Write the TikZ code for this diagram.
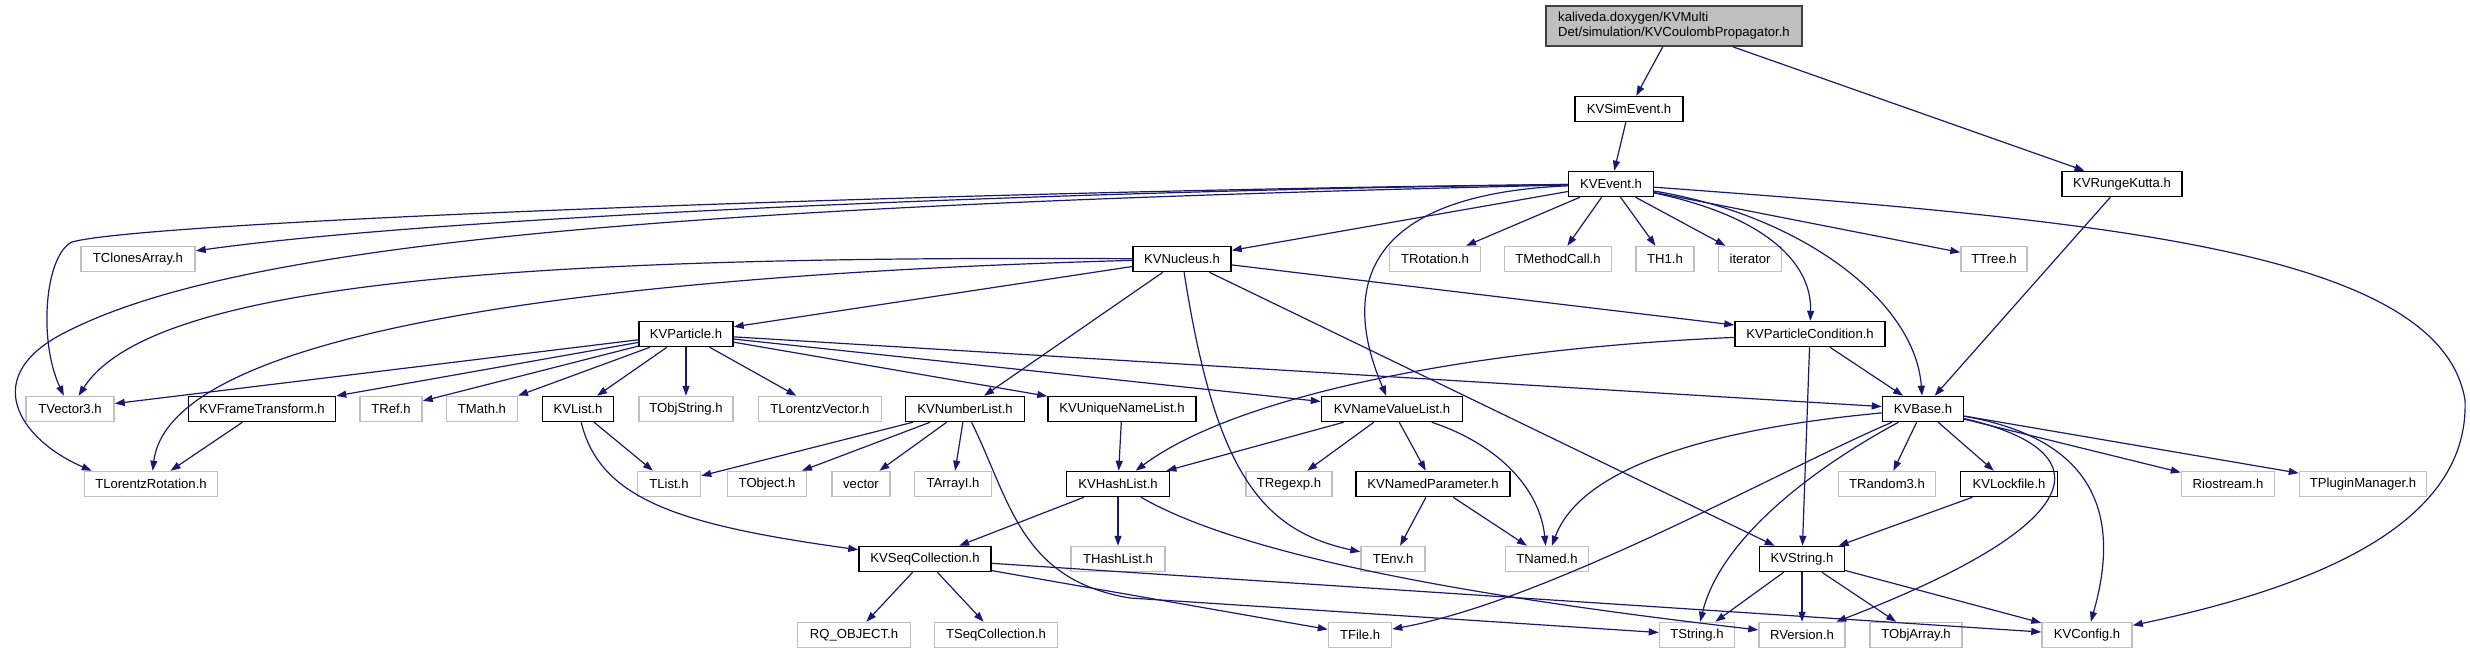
\documentclass[tikz,border=0pt]{standalone}
\usepackage{fontspec}
\usepackage{tikz}
\usetikzlibrary{arrows.meta,calc}
\newfontfamily\dotfont{Liberation Sans}
\definecolor{edgeblue}{HTML}{191970}
\definecolor{extgray}{HTML}{BFBFBF}
\definecolor{rootgray}{HTML}{BFBFBF}
\definecolor{rootline}{HTML}{404040}
\tikzset{filebox/.style={fill=white,line width=1.5pt,minimum height=25pt,inner sep=0pt,font={\dotfont\fontsize{13.1}{15}\selectfont}}, hdr/.style={filebox,draw=black},ext/.style={filebox,draw=extgray}, rootfile/.style={filebox,draw=rootline,fill=rootgray,align=left,minimum height=40pt},dep/.style={draw=edgeblue,line width=1.2pt,-{Triangle[length=10pt,width=7pt]}}}
\begin{document}
\begin{tikzpicture}[x=1pt,y=-1pt]
\useasboundingbox (0,0) rectangle (2470,649);
\node[rootfile,minimum width=256] (root) at (1674,26) {kaliveda.doxygen/KVMulti\\Det/simulation/KVCoulombPropagator.h};
\node[hdr,minimum width=108] (simevent) at (1629,109) {KVSimEvent.h};
\node[hdr,minimum width=85] (event) at (1611,184) {KVEvent.h};
\node[hdr,minimum width=120] (rungekutta) at (2122,184) {KVRungeKutta.h};
\node[ext,minimum width=114] (clonesarray) at (138,259) {TClonesArray.h};
\node[hdr,minimum width=98] (nucleus) at (1182,259) {KVNucleus.h};
\node[ext,minimum width=91] (rotation) at (1435,259) {TRotation.h};
\node[ext,minimum width=107] (methodcall) at (1558,259) {TMethodCall.h};
\node[ext,minimum width=58] (thone) at (1665,259) {TH1.h};
\node[ext,minimum width=63] (iterator) at (1750,259) {iterator};
\node[ext,minimum width=66] (ttree) at (1994,259) {TTree.h};
\node[hdr,minimum width=94] (particle) at (686,334) {KVParticle.h};
\node[hdr,minimum width=150] (partcond) at (1810,334) {KVParticleCondition.h};
\node[ext,minimum width=88] (vecthree) at (70,409) {TVector3.h};
\node[hdr,minimum width=147] (frametrans) at (262,409) {KVFrameTransform.h};
\node[ext,minimum width=62] (tref) at (391,409) {TRef.h};
\node[ext,minimum width=71] (tmath) at (482,409) {TMath.h};
\node[hdr,minimum width=71] (kvlist) at (578,409) {KVList.h};
\node[ext,minimum width=94] (objstring) at (686,409) {TObjString.h};
\node[ext,minimum width=123] (lorentzvec) at (820,409) {TLorentzVector.h};
\node[hdr,minimum width=119] (numberlist) at (965,409) {KVNumberList.h};
\node[hdr,minimum width=148] (uniquelist) at (1122,409) {KVUniqueNameList.h};
\node[hdr,minimum width=141] (namevalue) at (1392,409) {KVNameValueList.h};
\node[hdr,minimum width=81] (kvbase) at (1923,409) {KVBase.h};
\node[ext,minimum width=133] (lorentzrot) at (151,484) {TLorentzRotation.h};
\node[ext,minimum width=63] (tlist) at (669,484) {TList.h};
\node[ext,minimum width=79] (tobject) at (767,484) {TObject.h};
\node[ext,minimum width=58] (vector) at (861,484) {vector};
\node[ext,minimum width=77] (tarrayi) at (953,484) {TArrayI.h};
\node[hdr,minimum width=103] (hashlist) at (1118,484) {KVHashList.h};
\node[ext,minimum width=86] (regexp) at (1289,484) {TRegexp.h};
\node[hdr,minimum width=154] (namedpar) at (1433,484) {KVNamedParameter.h};
\node[ext,minimum width=97] (random3) at (1887,484) {TRandom3.h};
\node[hdr,minimum width=97] (lockfile) at (2009,484) {KVLockfile.h};
\node[ext,minimum width=93] (riostream) at (2228,484) {Riostream.h};
\node[ext,minimum width=127] (pluginmgr) at (2363,484) {TPluginManager.h};
\node[hdr,minimum width=132] (seqcoll) at (925,559) {KVSeqCollection.h};
\node[ext,minimum width=94] (thashlist) at (1118,559) {THashList.h};
\node[ext,minimum width=64] (tenv) at (1393,559) {TEnv.h};
\node[ext,minimum width=83] (tnamed) at (1547,559) {TNamed.h};
\node[hdr,minimum width=85] (kvstring) at (1802,559) {KVString.h};
\node[ext,minimum width=113] (rqobject) at (854,635) {RQ\_OBJECT.h};
\node[ext,minimum width=123] (tseqcoll) at (996,635) {TSeqCollection.h};
\node[ext,minimum width=63] (tfile) at (1360,635) {TFile.h};
\node[ext,minimum width=75] (tstring) at (1697,635) {TString.h};
\node[ext,minimum width=86] (rversion) at (1802,635) {RVersion.h};
\node[ext,minimum width=92] (objarray) at (1916,635) {TObjArray.h};
\node[ext,minimum width=90] (kvconfig) at (2087,635) {KVConfig.h};
\draw[dep] (root) -- (simevent);
\draw[dep] (root) -- (rungekutta);
\draw[dep] (simevent) -- (event);
\draw[dep] (event) .. controls (1000,190) and (150,220) .. (72,242) .. controls (45,255) and (38,340) .. (vecthree);
\draw[dep] (event) .. controls (1100,190) and (450,215) .. (clonesarray);
\draw[dep] (event) .. controls (700,205) and (250,240) .. (70,330) .. controls (-25,375) and (20,440) .. ([xshift=8pt]lorentzrot.north west);
\draw[dep] (event) -- (nucleus);
\draw[dep] (event) -- (rotation);
\draw[dep] (event) -- (methodcall);
\draw[dep] (event) -- (thone);
\draw[dep] (event) -- (iterator);
\draw[dep] (event) -- (ttree);
\draw[dep] (event) .. controls (1350,195) and (1345,300) .. (namevalue);
\draw[dep] (event) .. controls (1760,215) and (1812,260) .. (partcond);
\draw[dep] (event) .. controls (1800,215) and (1915,300) .. (kvbase);
\draw[dep] (event) .. controls (2100,220) and (2440,250) .. (2465,400) .. controls (2470,530) and (2300,590) .. (kvconfig);
\draw[dep] (rungekutta) -- (kvbase);
\draw[dep] (nucleus) .. controls (500,255) and (150,285) .. (vecthree);
\draw[dep] (nucleus) .. controls (600,275) and (170,330) .. (lorentzrot);
\draw[dep] (nucleus) -- (particle);
\draw[dep] (nucleus) -- (partcond);
\draw[dep] (nucleus) -- (numberlist);
\draw[dep] (nucleus) .. controls (1215,470) and (1260,530) .. (tenv);
\draw[dep] (nucleus) -- (kvstring);
\draw[dep] (particle) -- (vecthree);
\draw[dep] (particle) -- (frametrans);
\draw[dep] (particle) -- (tref);
\draw[dep] (particle) -- (tmath);
\draw[dep] (particle) -- (kvlist);
\draw[dep] (particle) -- (objstring);
\draw[dep] (particle) -- (lorentzvec);
\draw[dep] (particle) -- (uniquelist);
\draw[dep] (particle) -- (namevalue);
\draw[dep] (particle) -- (kvbase);
\draw[dep] (partcond) .. controls (1450,350) and (1230,400) .. (hashlist);
\draw[dep] (partcond) -- (kvstring);
\draw[dep] (partcond) -- (kvbase);
\draw[dep] (frametrans) -- (lorentzrot);
\draw[dep] (kvlist) -- (tlist);
\draw[dep] (kvlist) .. controls (600,500) and (680,525) .. (seqcoll);
\draw[dep] (numberlist) -- (tlist);
\draw[dep] (numberlist) -- (tobject);
\draw[dep] (numberlist) -- (vector);
\draw[dep] (numberlist) -- (tarrayi);
\draw[dep] (numberlist) .. controls (1010,500) and (1020,580) .. (1130,598) -- (tstring);
\draw[dep] (uniquelist) -- (hashlist);
\draw[dep] (namevalue) -- (hashlist);
\draw[dep] (namevalue) -- (regexp);
\draw[dep] (namevalue) -- (namedpar);
\draw[dep] (namevalue) .. controls (1500,445) and (1540,490) .. (tnamed);
\draw[dep] (kvbase) .. controls (1700,430) and (1580,470) .. (tnamed);
\draw[dep] (kvbase) .. controls (1780,470) and (1550,600) .. (tfile);
\draw[dep] (kvbase) .. controls (1810,470) and (1720,540) .. (tstring);
\draw[dep] (kvbase) -- (random3);
\draw[dep] (kvbase) -- (lockfile);
\draw[dep] (kvbase) -- (riostream);
\draw[dep] (kvbase) -- (pluginmgr);
\draw[dep] (kvbase) .. controls (2100,450) and (2100,520) .. (rversion);
\draw[dep] (kvbase) .. controls (2100,440) and (2120,520) .. (kvconfig);
\draw[dep] (lockfile) -- (kvstring);
\draw[dep] (namedpar) -- (tenv);
\draw[dep] (namedpar) -- (tnamed);
\draw[dep] (hashlist) -- (seqcoll);
\draw[dep] (hashlist) -- (thashlist);
\draw[dep] (hashlist) .. controls (1250,560) and (1500,600) .. (rversion);
\draw[dep] (seqcoll) -- (rqobject);
\draw[dep] (seqcoll) -- (tseqcoll);
\draw[dep] (seqcoll) -- (tfile);
\draw[dep] (seqcoll) -- (kvconfig);
\draw[dep] (kvstring) -- (tstring);
\draw[dep] (kvstring) -- (rversion);
\draw[dep] (kvstring) -- (objarray);
\draw[dep] (kvstring) -- (kvconfig);
\end{tikzpicture}
\end{document}
